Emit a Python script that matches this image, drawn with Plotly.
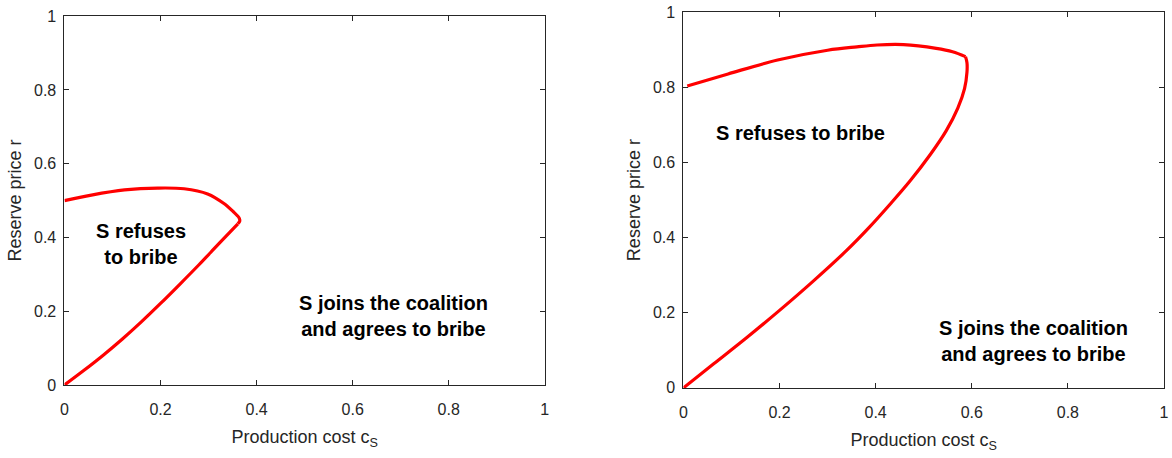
import plotly.graph_objects as go

# Left panel: upper boundary and lower boundary of the "refuses" region
left_upper_x = [0.0, 0.056, 0.125, 0.194, 0.249, 0.298, 0.332, 0.353, 0.360, 0.364, 0.365, 0.361]
left_upper_y = [0.500, 0.515, 0.529, 0.534, 0.532, 0.518, 0.492, 0.468, 0.459, 0.452, 0.445, 0.437]
left_lower_x = [0.361, 0.32, 0.28, 0.24, 0.20, 0.16, 0.12, 0.08, 0.04, 0.0]
left_lower_y = [0.437, 0.381, 0.326, 0.273, 0.221, 0.171, 0.124, 0.080, 0.039, 0.0]

# Right panel
right_upper_x = [0.008, 0.093, 0.196, 0.300, 0.361, 0.403, 0.458, 0.526, 0.560, 0.587]
right_upper_y = [0.804, 0.836, 0.873, 0.899, 0.908, 0.913, 0.914, 0.904, 0.895, 0.882]
right_lower_x = [0.587, 0.590, 0.590, 0.585, 0.571, 0.547, 0.513, 0.471, 0.430, 0.3856, 0.338, 0.269, 0.2006, 0.132, 0.063, 0.0]
right_lower_y = [0.882, 0.866, 0.840, 0.797, 0.745, 0.685, 0.620, 0.550, 0.489, 0.426, 0.364, 0.283, 0.207, 0.134, 0.064, 0.0]

tick_vals = [0, 0.2, 0.4, 0.6, 0.8, 1]
tick_text = ["0", "0.2", "0.4", "0.6", "0.8", "1"]

x_title = "Production cost c<sub>S</sub>"
y_title = "Reserve price r"

FONT = "Liberation Sans, Arial, sans-serif"
AX = "#262626"
RED = "#FF0000"

fig = go.Figure()

def add_curve(x, y, xa, ya):
    fig.add_trace(go.Scatter(x=x, y=y, mode="lines", xaxis=xa, yaxis=ya,
                             line=dict(color=RED, width=3.2, shape="spline", smoothing=1.0),
                             showlegend=False, hoverinfo="skip"))

add_curve(left_upper_x, left_upper_y, "x", "y")
add_curve(left_lower_x, left_lower_y, "x", "y")
add_curve(right_upper_x, right_upper_y, "x2", "y2")
add_curve(right_lower_x, right_lower_y, "x2", "y2")

def axis_style(domain, anchor, title, is_x):
    d = dict(domain=domain, anchor=anchor, range=[0, 1],
             tickvals=tick_vals, ticktext=tick_text,
             showline=True, linecolor=AX, linewidth=1, mirror="ticks",
             ticks="inside", ticklen=5, tickwidth=1, tickcolor=AX,
             tickfont=dict(family=FONT, size=16, color=AX),
             ticklabeloverflow="allow",
             showgrid=False, zeroline=False, fixedrange=True,
             title=dict(text=title, font=dict(family=FONT, size=18, color=AX),
                        standoff=13 if is_x else 7))
    d["ticklabelstandoff"] = 10 if is_x else 4
    return d

fig.update_layout(
    width=1172, height=458,
    margin=dict(l=0, r=0, t=0, b=0),
    paper_bgcolor="white", plot_bgcolor="white",
    xaxis=axis_style([0.0520, 0.4650], "y", x_title, True),
    yaxis=axis_style([0.1452, 0.9814], "x", y_title, False),
    xaxis2=axis_style([0.5842, 0.9974], "y2", x_title, True),
    yaxis2=axis_style([0.1386, 0.9902], "x2", y_title, False),
)

ann_font = dict(family=FONT, size=20, color="black")
annotations = [
    ("<b>S refuses<br>to bribe</b>", 0.160, 0.383, "x", "y"),
    ("<b>S joins the coalition<br>and agrees to bribe</b>", 0.684, 0.188, "x", "y"),
    ("<b>S refuses to bribe</b>", 0.244, 0.680, "x2", "y2"),
    ("<b>S joins the coalition<br>and agrees to bribe</b>", 0.729, 0.126, "x2", "y2"),
]
for text, ax_, ay_, xr, yr in annotations:
    fig.add_annotation(text=text, x=ax_, y=ay_, xref=xr, yref=yr, showarrow=False,
                       font=ann_font, align="center", xanchor="center", yanchor="middle")

fig.write_html("out.html")
